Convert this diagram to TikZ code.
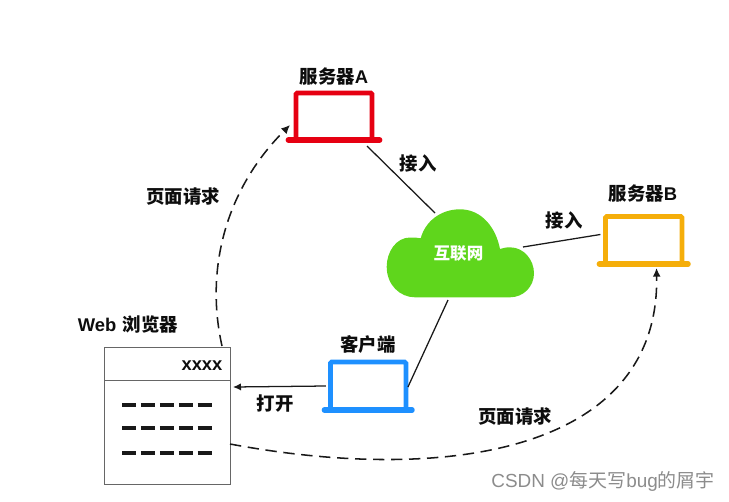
\documentclass[tikz,border=0pt]{standalone}
\usepackage{fontspec}
\setmainfont{Liberation Sans}
\newfontfamily\cjk{Noto Sans CJK SC}
\usetikzlibrary{arrows.meta}
\definecolor{srvred}{HTML}{E60012}
\definecolor{srvorange}{HTML}{F5AE0A}
\definecolor{cliblue}{HTML}{1E90FF}
\definecolor{cloudgreen}{HTML}{5FD61C}
\tikzset{
  x=0.75pt,y=-0.75pt,
  laptop/.style={draw=#1,line width=3.6pt,rounded corners=1pt,outer sep=0pt,inner sep=0pt},
  lapbase/.style={draw=#1,line width=4pt,line cap=round},
  lbl/.style={font=\bfseries\fontsize{13.8}{15}\selectfont,inner sep=0pt,text=black!95},
  link/.style={draw=black!90,line width=0.95pt},
  req/.style={draw=black!90,line width=1.15pt,dash pattern=on 8.5pt off 5pt,-{Latex[length=6.5pt,width=6pt]}},
  textline/.style={draw=black!90,line width=2.3pt,dash pattern=on 10.7pt off 3.5pt},
  browser/.style={draw=black!60,line width=0.6pt,outer sep=0pt,inner sep=0pt,minimum width=94.5pt,minimum height=102.75pt}
}
\begin{document}
\begin{tikzpicture}
\useasboundingbox (0,0) rectangle (729,501);
% laptops
\node[laptop=srvred,minimum width=57pt,minimum height=35.25pt] (srvA) at (334,116.5) {};
\draw[lapbase=srvred] ([xshift=-5.8pt]srvA.south west) -- ([xshift=5.8pt]srvA.south east);
\node[laptop=srvorange,minimum width=57.4pt,minimum height=35.6pt] (srvB) at (643.7,240.2) {};
\draw[lapbase=srvorange] ([xshift=-4.6pt]srvB.south west) -- ([xshift=4.6pt]srvB.south east);
\node[laptop=cliblue,minimum width=56.6pt,minimum height=36pt] (client) at (368.2,386) {};
\draw[lapbase=cliblue] ([xshift=-4.6pt]client.south west) -- ([xshift=4.6pt]client.south east);
% cloud
\fill[cloudgreen] (420.7,238.3) .. controls (417,237.5) and (414,237.5) .. (410,237.5)
  .. controls (396,237.5) and (386.7,252) .. (386.7,266.7)
  .. controls (386.7,285) and (400,297.3) .. (415,297.3) -- (510,297.3)
  .. controls (524,297.3) and (534,286) .. (534,273.3)
  .. controls (534,260) and (524,247.3) .. (510,247.3)
  .. controls (506,247.3) and (503,248) .. (500,249)
  .. controls (496,228) and (482,209.3) .. (460,209.3)
  .. controls (440,209.3) and (425,222) .. (420.7,238.3) -- cycle;
\node[inner sep=0pt,text=white,font=\bfseries\fontsize{12.4}{14}\selectfont] (cloud) at (458.5,253) {\cjk 互联网};
% browser
\node[browser] (web) at (167,415.5) {};
\coordinate (divL) at (104,380);
\coordinate (divR) at (230,380);
\draw[draw=black!60,line width=0.6pt] (divL) -- (divR);
\foreach \n/\yy in {1/405,2/428,3/453}{
  \coordinate (tl\n) at (122,\yy);
  \coordinate (tr\n) at (212,\yy);
  \draw[textline] (tl\n) -- (tr\n);
}
% connector ends
\coordinate (cloudA) at (435,213);
\coordinate (cloudB) at (523,247);
\coordinate (cloudC) at (448,300);
\coordinate (webTop) at (222,346);
\coordinate (webRight) at (230,444);
\coordinate (webOpen) at (233,387);
\coordinate (reqA) at (290,125);
\coordinate (reqB) at (656.5,268);
% connectors
\draw[link] ([shift={(-5,6)}]srvA.south east) -- (cloudA);
\draw[link] ([shift={(-5,18)}]srvB.north west) -- (cloudB);
\draw[link] ([shift={(2,-23)}]client.south east) -- (cloudC);
\draw[link,-{Latex[length=6pt,width=5.5pt]}] ([shift={(-4.5,-24)}]client.south west) -- (webOpen);
\draw[req] (webTop) .. controls (205,270) and (225,190) .. (reqA);
\draw[req] (webRight) .. controls (450,485) and (660,450) .. (reqB);
% labels
\node[lbl] (lA) at (334,77) {\cjk\bfseries 服务器\rmfamily\bfseries A};
\node[lbl] (lB) at (643,194) {\cjk\bfseries 服务器\rmfamily\bfseries B};
\node[lbl] (lC) at (368,344) {\cjk\bfseries 客户端};
\node[lbl] (lW) at (128,325) {Web\hspace{1pt} \cjk\bfseries 浏览器};
\node[lbl] (lX) at (202,366) {xxxx};
\node[lbl] (j1) at (418,163) {\cjk\bfseries 接入};
\node[lbl] (j2) at (564,220) {\cjk\bfseries 接入};
\node[lbl] (op) at (275,404) {\cjk\bfseries 打开};
\node[lbl] (r1) at (183,196) {\cjk\bfseries 页面请求};
\node[lbl] (r2) at (515,416) {\cjk\bfseries 页面请求};
\node[inner sep=0pt,text=black!45,font=\fontsize{14.2}{16}\selectfont] (wm) at (603,481) {CSDN @\cjk 每天写\rmfamily bug\cjk 的屑宇};
\end{tikzpicture}
\end{document}
